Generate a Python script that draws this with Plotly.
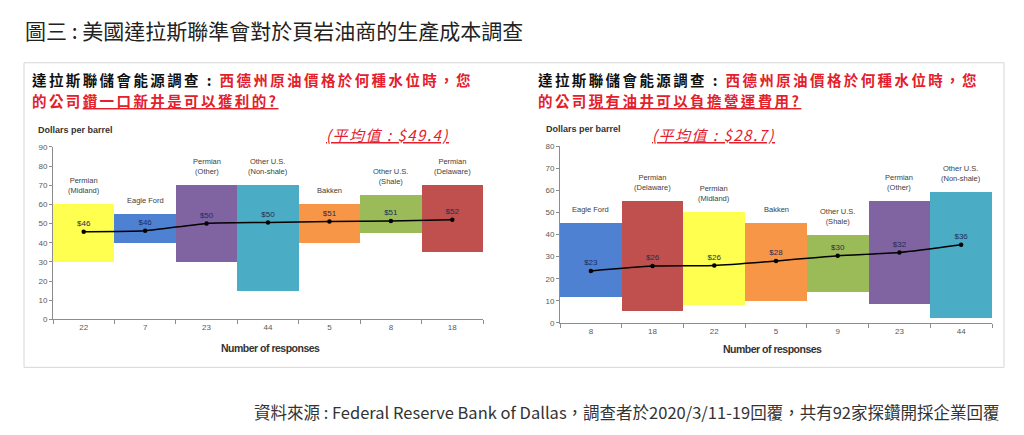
import plotly.graph_objects as go

W, H = 1024, 435

# ---------------- data ----------------
left_regions = ["Permian<br>(Midland)", "Eagle Ford", "Permian<br>(Other)", "Other U.S.<br>(Non-shale)",
                "Bakken", "Other U.S.<br>(Shale)", "Permian<br>(Delaware)"]
left_low = [30, 40, 30, 15, 40, 45, 35]
left_high = [60, 55, 70, 70, 60, 65, 70]
left_avg = [45.8, 46.2, 50.1, 50.6, 51.1, 51.3, 52.0]
left_avg_labels = ["$46", "$46", "$50", "$50", "$51", "$51", "$52"]
left_responses = ["22", "7", "23", "44", "5", "8", "18"]

right_regions = ["Eagle Ford", "Permian<br>(Delaware)", "Permian<br>(Midland)", "Bakken",
                 "Other U.S.<br>(Shale)", "Permian<br>(Other)", "Other U.S.<br>(Non-shale)"]
right_low = [11.7, 5.2, 8.0, 10.0, 14.2, 8.7, 2.1]
right_high = [45.3, 55.2, 50.2, 45.3, 39.9, 55.2, 59.2]
right_avg = [23.5, 25.7, 26.0, 28.0, 30.4, 31.9, 35.4]
right_avg_labels = ["$23", "$26", "$26", "$28", "$30", "$32", "$36"]
right_responses = ["8", "18", "22", "5", "9", "23", "44"]

# ---------------- style ----------------
region_colors = {
    "Permian<br>(Midland)": "#FFFF50",
    "Eagle Ford": "#4F81D3",
    "Permian<br>(Other)": "#8064A2",
    "Other U.S.<br>(Non-shale)": "#4BACC6",
    "Bakken": "#F79646",
    "Other U.S.<br>(Shale)": "#9BBB59",
    "Permian<br>(Delaware)": "#C0504D",
}
RED = "#E3202B"
LAB = "Liberation Sans, Arial, sans-serif"
CJK = "Noto Sans CJK TC, sans-serif"


def px(x):
    return x / W


def py(y):
    return 1 - y / H


fig = go.Figure()


def add_panel(regions, low, high, avg, avg_labels, responses, xa, ya):
    xs = list(range(len(regions)))
    fig.add_trace(go.Bar(
        x=xs, y=[h - l for h, l in zip(high, low)], base=low, width=1,
        marker=dict(color=[region_colors[r] for r in regions], line=dict(width=0)),
        xaxis=xa, yaxis=ya, hoverinfo="skip", showlegend=False))
    fig.add_trace(go.Scatter(
        x=xs, y=avg, mode="lines+markers+text", text=avg_labels,
        textposition="top center", textfont=dict(family=LAB, size=8, color="#1F2D55"),
        line=dict(color="#000000", width=1.5, shape="spline", smoothing=0.6),
        marker=dict(size=4.5, color="#000000"),
        xaxis=xa, yaxis=ya, hoverinfo="skip", showlegend=False))
    for i, (r, h) in enumerate(zip(regions, high)):
        fig.add_annotation(x=i, y=h, xref=xa, yref=ya, text=r, showarrow=False,
                           yanchor="bottom", yshift=7,
                           font=dict(family=LAB, size=7.5, color="#404040"))


add_panel(left_regions, left_low, left_high, left_avg, left_avg_labels, left_responses, "x", "y")
add_panel(right_regions, right_low, right_high, right_avg, right_avg_labels, right_responses, "x2", "y2")

axis_common = dict(showgrid=False, zeroline=False, showline=True, linecolor="#8c8c8c", linewidth=1,
                   tickfont=dict(family=LAB, size=8, color="#595959"), fixedrange=True)

fig.update_layout(
    width=W, height=H, margin=dict(l=0, r=0, t=0, b=0),
    paper_bgcolor="white", plot_bgcolor="white", bargap=0, barmode="overlay",
    xaxis=dict(domain=[px(53), px(483)], range=[-0.5, 6.5], anchor="y",
               tickmode="array", tickvals=list(range(7)), ticktext=left_responses, ticks="",
               minor=dict(tick0=-0.5, dtick=1, ticks="outside", ticklen=4, tickcolor="#8c8c8c"),
               **axis_common),
    yaxis=dict(domain=[py(322), py(146)], range=[0, 90], dtick=10, anchor="x",
               ticks="outside", ticklen=3, tickcolor="#8c8c8c", **axis_common),
    xaxis2=dict(domain=[px(560), px(992)], range=[-0.5, 6.5], anchor="y2",
                tickmode="array", tickvals=list(range(7)), ticktext=right_responses, ticks="",
                minor=dict(tick0=-0.5, dtick=1, ticks="outside", ticklen=4, tickcolor="#8c8c8c"),
                **axis_common),
    yaxis2=dict(domain=[py(325.7), py(145)], range=[0, 80], dtick=10, anchor="x2",
                ticks="outside", ticklen=3, tickcolor="#8c8c8c", **axis_common),
)

# border box
fig.add_shape(type="rect", xref="paper", yref="paper", x0=px(24), x1=px(1004), y0=py(371), y1=py(60),
              line=dict(color="#d6d6d6", width=1), fillcolor="rgba(0,0,0,0)", layer="below")


def ann(text, x, y, size, color="#222", xanchor="left", family=CJK, **kw):
    fig.add_annotation(x=px(x), y=py(y), xref="paper", yref="paper", text=text, showarrow=False,
                       xanchor=xanchor, yanchor="middle", borderpad=0,
                       font=dict(family=family, size=size, color=color), **kw)


SP = "letter-spacing:2.4px"
ann("圖三 : 美國達拉斯聯準會對於頁岩油商的生產成本調查", 24, 27, 21, "#222")

line1 = ("<b><span style='%s'>達拉斯聯儲會能源調查 : </span></b>"
         "<b><span style='color:%s;%s'>西德州原油價格於何種水位時，您</span></b>") % (SP, RED, SP)
ann(line1, 31, 77, 14.5, "#111")
ann("<b><span style='color:%s;%s'>的公司<u>鑽一口新井是可以獲利的?</u></span></b>" % (RED, SP), 31, 99, 14.5, RED)
ann(line1, 537, 77, 14.5, "#111")
ann("<b><span style='color:%s;%s'>的公司<u>現有油井可以負擔營運費用?</u></span></b>" % (RED, SP), 537, 99, 14.5, RED)

ann("<i><u><span style='letter-spacing:1.5px'>(平均值 : $49.4)</span></u></i>", 387, 133, 15, RED, xanchor="center")
ann("<i><u><span style='letter-spacing:1.5px'>(平均值 : $28.7)</span></u></i>", 713, 133, 15, RED, xanchor="center")

ann("<b>Dollars per barrel</b>", 37, 129, 9, "#333", family=LAB)
ann("<b>Dollars per barrel</b>", 545, 128, 9, "#333", family=LAB)

ann("<b><span style='letter-spacing:-0.5px'>Number of responses</span></b>", 270, 351, 10.5, "#333",
    xanchor="center", family=LAB)
ann("<b><span style='letter-spacing:-0.5px'>Number of responses</span></b>", 772, 352, 10.5, "#333",
    xanchor="center", family=LAB)

ann("資料來源 : Federal Reserve Bank of Dallas，調查者於2020/3/11-19回覆，共有92家探鑽開採企業回覆",
    1001, 417, 16.5, "#333", xanchor="right")

fig.write_html("out.html", config={"displayModeBar": False, "staticPlot": True},
               post_script="document.body.style.margin='0';document.body.style.padding='0';")
